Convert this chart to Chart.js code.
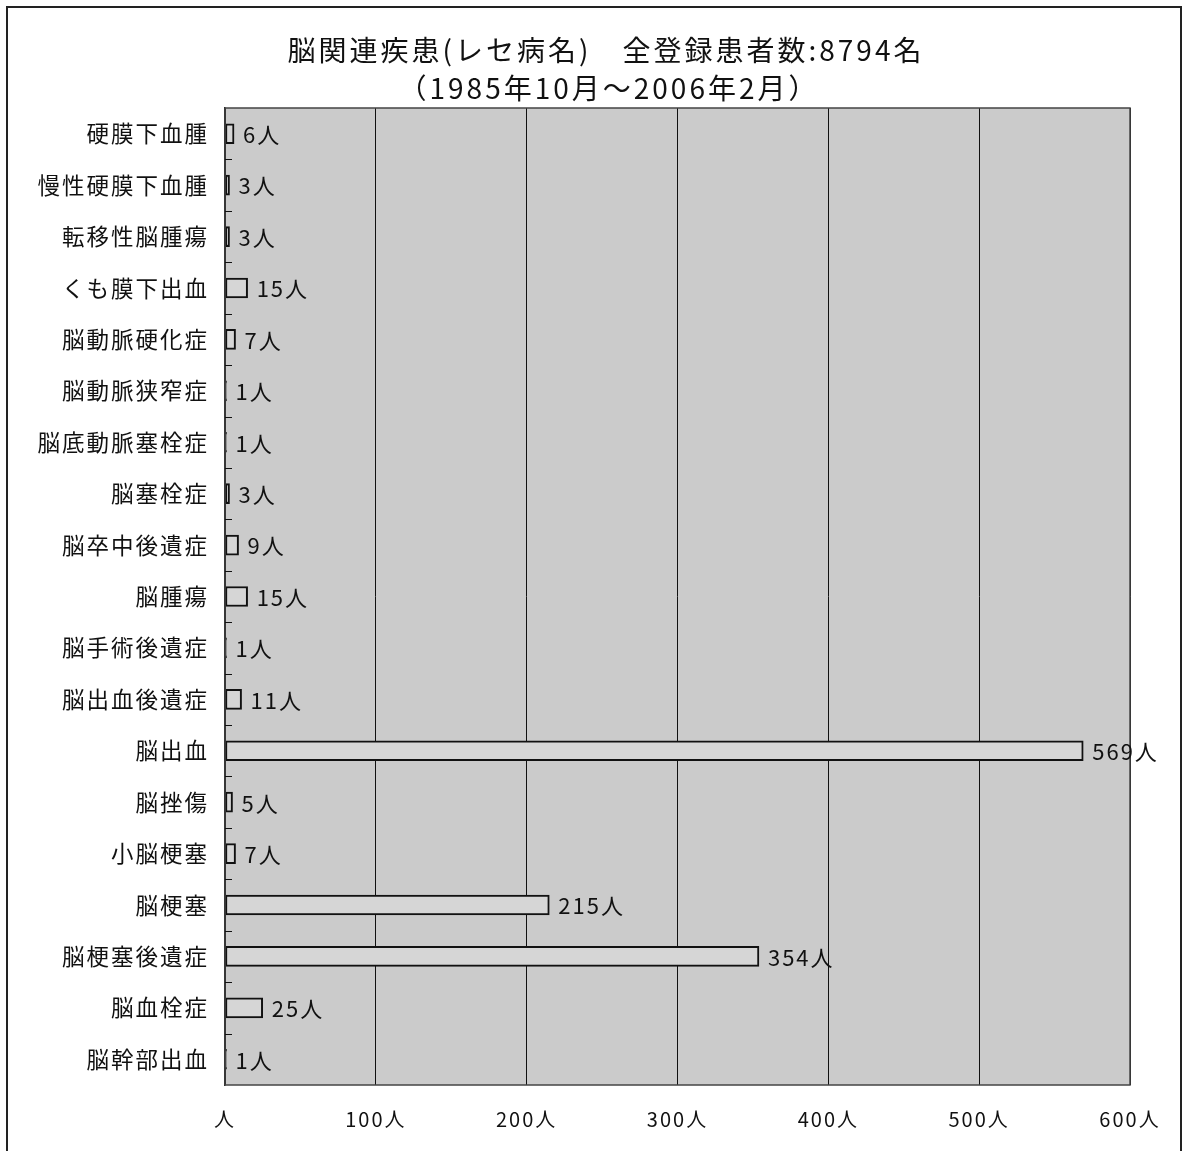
<!DOCTYPE html>
<html><head><meta charset="utf-8">
<script src="https://cdn.jsdelivr.net/npm/chart.js@4/dist/chart.umd.min.js"></script>
<style>html,body{margin:0;padding:0;background:#fff;}canvas{display:block;}</style>
</head><body>
<canvas id="c" width="1185" height="1151"></canvas>
<script>
const categories = ['硬膜下血腫','慢性硬膜下血腫','転移性脳腫瘍','くも膜下出血','脳動脈硬化症','脳動脈狭窄症','脳底動脈塞栓症','脳塞栓症','脳卒中後遺症','脳腫瘍','脳手術後遺症','脳出血後遺症','脳出血','脳挫傷','小脳梗塞','脳梗塞','脳梗塞後遺症','脳血栓症','脳幹部出血'];
const patients = [6,3,3,15,7,1,1,3,9,15,1,11,569,5,7,215,354,25,1];
const titleLines = ['脳関連疾患(レセ病名)　全登録患者数:8794名','（1985年10月～2006年2月）'];
const unit = '人';
const xTicks = [0,100,200,300,400,500,600];

const FONT = '"Noto Sans CJK JP", "Noto Sans", sans-serif';

const decor = {
  id: 'decor',
  beforeDraw(chart) {
    const ctx = chart.ctx, a = chart.chartArea;
    ctx.save();
    ctx.fillStyle = '#fff';
    ctx.fillRect(0, 0, chart.width, chart.height);
    ctx.fillStyle = '#cbcbcb';
    ctx.fillRect(a.left, a.top, a.right - a.left, a.bottom - a.top);
    // outer frame
    ctx.strokeStyle = '#222';
    ctx.lineWidth = 2;
    ctx.beginPath();
    ctx.moveTo(7, chart.height + 2);
    ctx.lineTo(7, 7);
    ctx.lineTo(1181, 7);
    ctx.lineTo(1181, chart.height + 2);
    ctx.stroke();
    // title
    ctx.fillStyle = '#111';
    ctx.font = '28px ' + FONT;
    ctx.letterSpacing = '3px';
    ctx.textAlign = 'center';
    ctx.textBaseline = 'middle';
    ctx.fillText(titleLines[0], 606, 50);
    ctx.fillText(titleLines[1], 609, 88);
    ctx.restore();
    // spacing for tick labels (wide, Gothic-like look)
    ctx.letterSpacing = '2px';
  },
  afterDatasetsDraw(chart) {
    const ctx = chart.ctx, a = chart.chartArea;
    const y = chart.scales.y;
    ctx.save();
    // plot border
    ctx.strokeStyle = '#444';
    ctx.lineWidth = 1.5;
    ctx.strokeRect(a.left, a.top, a.right - a.left, a.bottom - a.top);
    // small inner tick marks at category boundaries
    ctx.strokeStyle = '#111';
    ctx.lineWidth = 1;
    ctx.beginPath();
    for (let i = 1; i < categories.length; i++) {
      const yy = Math.round((y.getPixelForValue(i - 1) + y.getPixelForValue(i)) / 2) + 0.5;
      ctx.moveTo(a.left, yy);
      ctx.lineTo(a.left + 7, yy);
    }
    ctx.stroke();
    // data labels
    ctx.fillStyle = '#111';
    ctx.font = '22px ' + FONT;
    ctx.letterSpacing = '2px';
    ctx.textAlign = 'left';
    ctx.textBaseline = 'middle';
    const meta = chart.getDatasetMeta(0);
    meta.data.forEach((bar, i) => {
      ctx.fillText(patients[i] + unit, bar.x + 9, bar.y + 1);
    });
    ctx.restore();
  }
};

new Chart(document.getElementById('c'), {
  type: 'bar',
  data: {
    labels: categories,
    datasets: [{
      data: patients,
      backgroundColor: '#d6d6d6',
      borderColor: '#111',
      borderWidth: 2,
      borderSkipped: false,
      barThickness: 20
    }]
  },
  options: {
    indexAxis: 'y',
    responsive: false,
    animation: false,
    layout: { padding: { left: 0, top: 108, right: 55, bottom: 0 } },
    plugins: { legend: { display: false }, tooltip: { enabled: false } },
    scales: {
      x: {
        min: 0, max: 600,
        afterBuildTicks(scale) { scale.ticks = xTicks.map(v => ({ value: v })); },
        afterFit(scale) { scale.height = 66; },
        ticks: {
          color: '#111',
          font: { family: FONT, size: 20 },
          padding: 22,
          maxRotation: 0,
          callback: v => (v === 0 ? '' : v) + unit
        },
        grid: { color: '#111', lineWidth: 1, drawTicks: false },
        border: { display: false }
      },
      y: {
        afterFit(scale) { scale.width = 225; },
        ticks: {
          color: '#111',
          font: { family: FONT, size: 22.5 },
          padding: 16
        },
        grid: { display: false, drawTicks: false },
        border: { display: true, color: '#111', width: 1.5 }
      }
    }
  },
  plugins: [decor]
});
</script>
</body></html>
